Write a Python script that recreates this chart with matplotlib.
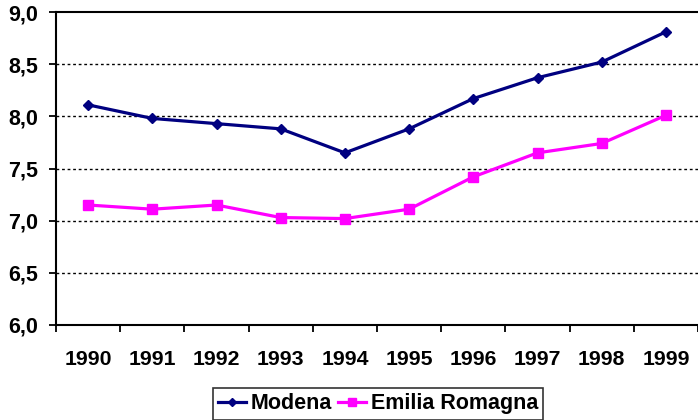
import numpy as np
import matplotlib.pyplot as plt
from matplotlib.ticker import FixedLocator, FuncFormatter

plt.rcParams['font.family'] = ['Liberation Sans', 'DejaVu Sans']

years = ['1990', '1991', '1992', '1993', '1994', '1995', '1996', '1997', '1998', '1999']
modena = [8.11, 7.98, 7.93, 7.88, 7.65, 7.88, 8.17, 8.37, 8.52, 8.81]
emilia = [7.15, 7.11, 7.15, 7.03, 7.02, 7.11, 7.42, 7.65, 7.74, 8.01]

fig = plt.figure(figsize=(6.98, 4.2), dpi=100)
ax = fig.add_axes([56 / 698, 1 - 325 / 420, 1 - 56 / 698, (325 - 12) / 420])

x = np.arange(len(years))
ax.plot(x, modena, color='#000080', lw=2.3, marker='D', ms=5.5, label='Modena')
ax.plot(x, emilia, color='#FF00FF', lw=2.3, marker='s', ms=7.5, label='Emilia Romagna')

ax.set_xlim(-0.5, len(years) - 0.5)
ax.set_ylim(6.0, 9.0)
ax.set_yticks(np.arange(6.0, 9.01, 0.5))
ax.yaxis.set_major_formatter(FuncFormatter(lambda v, p: f'{v:.1f}'.replace('.', ',')))
for v in np.arange(6.5, 9.0, 0.5):
    ax.axhline(v, color='black', lw=1, ls=(0, (2, 2)), zorder=0)

ax.set_xticks(x)
ax.set_xticklabels(years)
ax.xaxis.set_minor_locator(FixedLocator(np.arange(-0.5, len(years), 1.0)))
ax.tick_params(axis='x', which='major', length=0, pad=18, labelsize=15.3)
ax.tick_params(axis='x', which='minor', length=5, width=1.3, direction='out')
ax.tick_params(axis='y', length=5, width=1.3, labelsize=15.5, pad=8)
for lab in ax.get_xticklabels() + ax.get_yticklabels():
    lab.set_fontweight('bold')

ax.spines['right'].set_visible(False)
for s in ['left', 'bottom', 'top']:
    ax.spines[s].set_linewidth(1.5)

leg = fig.legend(loc='lower center', bbox_to_anchor=(378 / 698, -0.02), ncol=2,
                 frameon=True, fancybox=False, edgecolor='black',
                 prop={'weight': 'bold', 'size': 15.5}, handlelength=1.3,
                 handletextpad=0.2, columnspacing=0.3, borderpad=0.25,
                 borderaxespad=0.4, markerscale=0.8)
leg.get_frame().set_linewidth(1.2)

fig.savefig('out.png', dpi=100)
